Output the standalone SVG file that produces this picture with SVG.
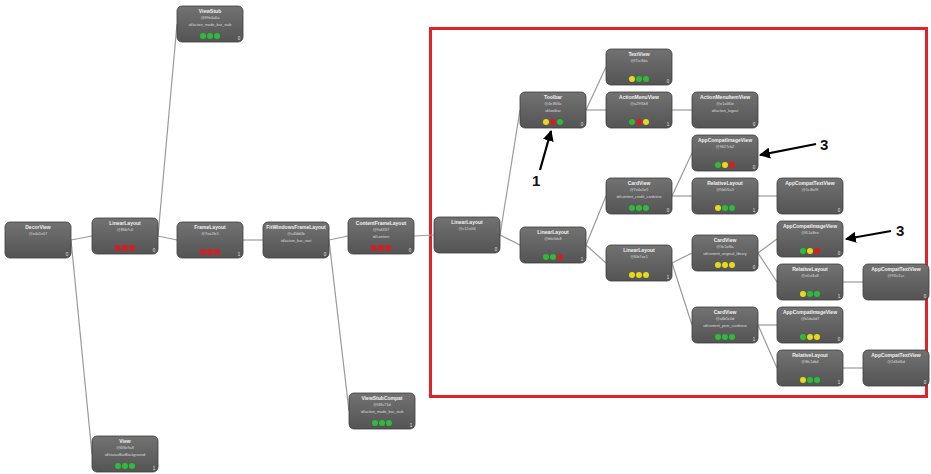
<svg xmlns="http://www.w3.org/2000/svg" width="931" height="474" viewBox="0 0 931 474">
  <defs>
    <linearGradient id="boxFill" x1="0" y1="0" x2="0" y2="1">
      <stop offset="0" stop-color="#727272"/>
      <stop offset="1" stop-color="#545454"/>
    </linearGradient>
    <marker id="arrowHead" viewBox="0 0 10 10" refX="9" refY="5" markerWidth="5" markerHeight="5" orient="auto-start-reverse">
      <path d="M0,0 L10,5 L0,10 z" fill="#000"/>
    </marker>
  </defs>
  <style>
    .box { fill: url(#boxFill); stroke: #3e3e3e; stroke-width: 0.8; }
    .t { font-family: "Liberation Sans", Arial, sans-serif; font-size: 5px; font-weight: bold; fill: #f2f2f2; text-anchor: middle; }
    .i { font-family: "Liberation Sans", Arial, sans-serif; font-size: 3.8px; fill: #dcdcdc; text-anchor: middle; }
    .n { font-family: "Liberation Sans", Arial, sans-serif; font-size: 4.5px; fill: #e0e0e0; text-anchor: middle; }
    .g { fill: #2dbb3a; }
    .y { fill: #e8d81a; }
    .r { fill: #d61d24; }
    .wire { stroke: #9a9a9a; stroke-width: 1.2; fill: none; }
    .note { stroke: #000; stroke-width: 2.2; fill: none; }
    .lbl { font-family: "Liberation Sans", Arial, sans-serif; font-size: 15px; font-weight: bold; fill: #111; }
  </style>

  <rect width="931" height="474" fill="#ffffff"/>

  <!-- highlighted sub-tree frame -->
  <rect x="430.5" y="28.5" width="496" height="368" fill="none" stroke="#e0232b" stroke-width="3"/>

  <!-- connectors: parent right-middle to child left-middle -->
  <g id="connectors">
    <line class="wire" x1="71" y1="240" x2="92" y2="236"/>
    <line class="wire" x1="71" y1="240" x2="92" y2="454"/>
    <line class="wire" x1="158" y1="236" x2="177" y2="24"/>
    <line class="wire" x1="158" y1="236" x2="177" y2="240"/>
    <line class="wire" x1="243" y1="240" x2="263" y2="240"/>
    <line class="wire" x1="329" y1="240" x2="348" y2="236"/>
    <line class="wire" x1="329" y1="240" x2="349" y2="411"/>
    <line class="wire" x1="414" y1="236" x2="434" y2="235"/>
    <line class="wire" x1="500" y1="235" x2="520" y2="110"/>
    <line class="wire" x1="500" y1="235" x2="520" y2="245"/>
    <line class="wire" x1="586" y1="110" x2="606" y2="67"/>
    <line class="wire" x1="586" y1="110" x2="606" y2="110"/>
    <line class="wire" x1="672" y1="110" x2="692" y2="110"/>
    <line class="wire" x1="586" y1="245" x2="606" y2="196"/>
    <line class="wire" x1="586" y1="245" x2="606" y2="263"/>
    <line class="wire" x1="672" y1="196" x2="692" y2="153"/>
    <line class="wire" x1="672" y1="196" x2="692" y2="196"/>
    <line class="wire" x1="758" y1="196" x2="777" y2="196"/>
    <line class="wire" x1="672" y1="263" x2="692" y2="253"/>
    <line class="wire" x1="672" y1="263" x2="692" y2="325"/>
    <line class="wire" x1="758" y1="253" x2="777" y2="239"/>
    <line class="wire" x1="758" y1="253" x2="777" y2="282"/>
    <line class="wire" x1="843" y1="282" x2="863" y2="282"/>
    <line class="wire" x1="758" y1="325" x2="777" y2="325"/>
    <line class="wire" x1="758" y1="325" x2="777" y2="368"/>
    <line class="wire" x1="843" y1="368" x2="863" y2="368"/>
  </g>

  <!-- view nodes -->
  <g id="n-decorview" transform="translate(5,222)">
    <rect class="box" width="66" height="36" rx="5"/>
    <text class="t" x="33" y="7">DecorView</text>
    <text class="i" x="33" y="13">@a4a5e07</text>
    <text class="n" x="62" y="34">0</text>
  </g>

  <g id="n-linearlayout-root" transform="translate(92,218)">
    <rect class="box" width="66" height="36" rx="5"/>
    <text class="t" x="33" y="7">LinearLayout</text>
    <text class="i" x="33" y="13">@86b7c0</text>
    <circle class="r" cx="26" cy="30" r="3"/><circle class="r" cx="33" cy="30" r="3"/><circle class="r" cx="40" cy="30" r="3"/>
    <text class="n" x="62" y="34">0</text>
  </g>

  <g id="n-viewstub" transform="translate(177,6)">
    <rect class="box" width="66" height="36" rx="5"/>
    <text class="t" x="33" y="7">ViewStub</text>
    <text class="i" x="33" y="13">@89e4a6a</text>
    <text class="i" x="33" y="20">id/action_mode_bar_stub</text>
    <circle class="g" cx="26" cy="30" r="3"/><circle class="g" cx="33" cy="30" r="3"/><circle class="g" cx="40" cy="30" r="3"/>
    <text class="n" x="62" y="34">0</text>
  </g>

  <g id="n-framelayout" transform="translate(177,222)">
    <rect class="box" width="66" height="36" rx="5"/>
    <text class="t" x="33" y="7">FrameLayout</text>
    <text class="i" x="33" y="13">@7ea2fe5</text>
    <circle class="r" cx="26" cy="30" r="3"/><circle class="r" cx="33" cy="30" r="3"/><circle class="r" cx="40" cy="30" r="3"/>
    <text class="n" x="62" y="34">1</text>
  </g>

  <g id="n-fitwindowsframelayout" transform="translate(263,222)">
    <rect class="box" width="66" height="36" rx="5"/>
    <text class="t" x="33" y="7">FitWindowsFrameLayout</text>
    <text class="i" x="33" y="13">@c4fdd0b</text>
    <text class="i" x="33" y="20">id/action_bar_root</text>
    <text class="n" x="62" y="34">0</text>
  </g>

  <g id="n-contentframelayout" transform="translate(348,218)">
    <rect class="box" width="66" height="36" rx="5"/>
    <text class="t" x="33" y="7">ContentFrameLayout</text>
    <text class="i" x="33" y="13">@9a6f1f7</text>
    <text class="i" x="33" y="20">id/content</text>
    <circle class="r" cx="26" cy="30" r="3"/><circle class="r" cx="33" cy="30" r="3"/><circle class="r" cx="40" cy="30" r="3"/>
    <text class="n" x="62" y="34">0</text>
  </g>

  <g id="n-viewstubcompat" transform="translate(349,393)">
    <rect class="box" width="66" height="36" rx="5"/>
    <text class="t" x="33" y="7">ViewStubCompat</text>
    <text class="i" x="33" y="13">@f48c71d</text>
    <text class="i" x="33" y="20">id/action_mode_bar_stub</text>
    <circle class="g" cx="26" cy="30" r="3"/><circle class="g" cx="33" cy="30" r="3"/><circle class="g" cx="40" cy="30" r="3"/>
    <text class="n" x="62" y="34">1</text>
  </g>

  <g id="n-view" transform="translate(92,436)">
    <rect class="box" width="66" height="36" rx="5"/>
    <text class="t" x="33" y="7">View</text>
    <text class="i" x="33" y="13">@6f3e9a8</text>
    <text class="i" x="33" y="20">id/statusBarBackground</text>
    <circle class="g" cx="26" cy="30" r="3"/><circle class="g" cx="33" cy="30" r="3"/><circle class="g" cx="40" cy="30" r="3"/>
    <text class="n" x="62" y="34">1</text>
  </g>

  <g id="n-linearlayout-a" transform="translate(434,217)">
    <rect class="box" width="66" height="36" rx="5"/>
    <text class="t" x="33" y="7">LinearLayout</text>
    <text class="i" x="33" y="13">@c12c0f4</text>
    <text class="n" x="62" y="34">0</text>
  </g>

  <g id="n-toolbar" transform="translate(520,92)">
    <rect class="box" width="66" height="36" rx="5"/>
    <text class="t" x="33" y="7">Toolbar</text>
    <text class="i" x="33" y="13">@4e3f06c</text>
    <text class="i" x="33" y="20">id/toolbar</text>
    <circle class="y" cx="26" cy="30" r="3"/><circle class="r" cx="33" cy="30" r="3"/><circle class="g" cx="40" cy="30" r="3"/>
    <text class="n" x="62" y="34">0</text>
  </g>

  <g id="n-linearlayout-b" transform="translate(520,227)">
    <rect class="box" width="66" height="36" rx="5"/>
    <text class="t" x="33" y="7">LinearLayout</text>
    <text class="i" x="33" y="13">@bfa9dc8</text>
    <circle class="g" cx="26" cy="30" r="3"/><circle class="g" cx="33" cy="30" r="3"/><circle class="r" cx="40" cy="30" r="3"/>
    <text class="n" x="62" y="34">1</text>
  </g>

  <g id="n-textview" transform="translate(606,49)">
    <rect class="box" width="66" height="36" rx="5"/>
    <text class="t" x="33" y="7">TextView</text>
    <text class="i" x="33" y="13">@f7cc8da</text>
    <circle class="y" cx="26" cy="30" r="3"/><circle class="g" cx="33" cy="30" r="3"/><circle class="g" cx="40" cy="30" r="3"/>
    <text class="n" x="62" y="34">0</text>
  </g>

  <g id="n-actionmenuview" transform="translate(606,92)">
    <rect class="box" width="66" height="36" rx="5"/>
    <text class="t" x="33" y="7">ActionMenuView</text>
    <text class="i" x="33" y="13">@a29f1b8</text>
    <circle class="g" cx="26" cy="30" r="3"/><circle class="r" cx="33" cy="30" r="3"/><circle class="y" cx="40" cy="30" r="3"/>
    <text class="n" x="62" y="34">1</text>
  </g>

  <g id="n-actionmenuitemview" transform="translate(692,92)">
    <rect class="box" width="66" height="36" rx="5"/>
    <text class="t" x="33" y="7">ActionMenuItemView</text>
    <text class="i" x="33" y="13">@e1a6f0e</text>
    <text class="i" x="33" y="20">id/action_logout</text>
    <text class="n" x="62" y="34">0</text>
  </g>

  <g id="n-appcompatimageview-1" transform="translate(692,135)">
    <rect class="box" width="66" height="36" rx="5"/>
    <text class="t" x="33" y="7">AppCompatImageView</text>
    <text class="i" x="33" y="13">@9627cb2</text>
    <circle class="g" cx="26" cy="30" r="3"/><circle class="y" cx="33" cy="30" r="3"/><circle class="r" cx="40" cy="30" r="3"/>
    <text class="n" x="62" y="34">0</text>
  </g>

  <g id="n-cardview-1" transform="translate(606,178)">
    <rect class="box" width="66" height="36" rx="5"/>
    <text class="t" x="33" y="7">CardView</text>
    <text class="i" x="33" y="13">@7e4a5a5</text>
    <text class="i" x="33" y="20">id/content_credit_cardview</text>
    <circle class="g" cx="26" cy="30" r="3"/><circle class="g" cx="33" cy="30" r="3"/><circle class="g" cx="40" cy="30" r="3"/>
    <text class="n" x="62" y="34">0</text>
  </g>

  <g id="n-relativelayout-1" transform="translate(692,178)">
    <rect class="box" width="66" height="36" rx="5"/>
    <text class="t" x="33" y="7">RelativeLayout</text>
    <text class="i" x="33" y="13">@5b0f1a3</text>
    <circle class="y" cx="26" cy="30" r="3"/><circle class="g" cx="33" cy="30" r="3"/><circle class="g" cx="40" cy="30" r="3"/>
    <text class="n" x="62" y="34">1</text>
  </g>

  <g id="n-appcompattextview-1" transform="translate(777,178)">
    <rect class="box" width="66" height="36" rx="5"/>
    <text class="t" x="33" y="7">AppCompatTextView</text>
    <text class="i" x="33" y="13">@1c4fa9f</text>
    <text class="n" x="62" y="34">0</text>
  </g>

  <g id="n-linearlayout-c" transform="translate(606,245)">
    <rect class="box" width="66" height="36" rx="5"/>
    <text class="t" x="33" y="7">LinearLayout</text>
    <text class="i" x="33" y="13">@f0b7ae1</text>
    <circle class="y" cx="26" cy="30" r="3"/><circle class="y" cx="33" cy="30" r="3"/><circle class="y" cx="40" cy="30" r="3"/>
    <text class="n" x="62" y="34">1</text>
  </g>

  <g id="n-cardview-2" transform="translate(692,235)">
    <rect class="box" width="66" height="36" rx="5"/>
    <text class="t" x="33" y="7">CardView</text>
    <text class="i" x="33" y="13">@3c1af6a</text>
    <text class="i" x="33" y="20">id/content_original_library</text>
    <circle class="y" cx="26" cy="30" r="3"/><circle class="y" cx="33" cy="30" r="3"/><circle class="y" cx="40" cy="30" r="3"/>
    <text class="n" x="62" y="34">0</text>
  </g>

  <g id="n-appcompatimageview-2" transform="translate(777,221)">
    <rect class="box" width="66" height="36" rx="5"/>
    <text class="t" x="33" y="7">AppCompatImageView</text>
    <text class="i" x="33" y="13">@f51a8ee</text>
    <circle class="g" cx="26" cy="30" r="3"/><circle class="y" cx="33" cy="30" r="3"/><circle class="r" cx="40" cy="30" r="3"/>
    <text class="n" x="62" y="34">0</text>
  </g>

  <g id="n-relativelayout-2" transform="translate(777,264)">
    <rect class="box" width="66" height="36" rx="5"/>
    <text class="t" x="33" y="7">RelativeLayout</text>
    <text class="i" x="33" y="13">@e0cf4a8</text>
    <circle class="y" cx="26" cy="30" r="3"/><circle class="g" cx="33" cy="30" r="3"/><circle class="g" cx="40" cy="30" r="3"/>
    <text class="n" x="62" y="34">1</text>
  </g>

  <g id="n-appcompattextview-2" transform="translate(863,264)">
    <rect class="box" width="66" height="36" rx="5"/>
    <text class="t" x="33" y="7">AppCompatTextView</text>
    <text class="i" x="33" y="13">@9f5c1cc</text>
    <text class="n" x="62" y="34">0</text>
  </g>

  <g id="n-cardview-3" transform="translate(692,307)">
    <rect class="box" width="66" height="36" rx="5"/>
    <text class="t" x="33" y="7">CardView</text>
    <text class="i" x="33" y="13">@a6b5c0d</text>
    <text class="i" x="33" y="20">id/content_peer_cardview</text>
    <circle class="g" cx="26" cy="30" r="3"/><circle class="g" cx="33" cy="30" r="3"/><circle class="g" cx="40" cy="30" r="3"/>
    <text class="n" x="62" y="34">1</text>
  </g>

  <g id="n-appcompatimageview-3" transform="translate(777,307)">
    <rect class="box" width="66" height="36" rx="5"/>
    <text class="t" x="33" y="7">AppCompatImageView</text>
    <text class="i" x="33" y="13">@b1da0d7</text>
    <circle class="g" cx="26" cy="30" r="3"/><circle class="y" cx="33" cy="30" r="3"/><circle class="y" cx="40" cy="30" r="3"/>
    <text class="n" x="62" y="34">0</text>
  </g>

  <g id="n-relativelayout-3" transform="translate(777,350)">
    <rect class="box" width="66" height="36" rx="5"/>
    <text class="t" x="33" y="7">RelativeLayout</text>
    <text class="i" x="33" y="13">@8fc1db4</text>
    <circle class="y" cx="26" cy="30" r="3"/><circle class="g" cx="33" cy="30" r="3"/><circle class="g" cx="40" cy="30" r="3"/>
    <text class="n" x="62" y="34">1</text>
  </g>

  <g id="n-appcompattextview-3" transform="translate(863,350)">
    <rect class="box" width="66" height="36" rx="5"/>
    <text class="t" x="33" y="7">AppCompatTextView</text>
    <text class="i" x="33" y="13">@2d3ef6d</text>
    <text class="n" x="62" y="34">0</text>
  </g>

  <!-- callouts -->
  <g id="callouts">
    <line class="note" x1="540" y1="170" x2="551" y2="131" marker-end="url(#arrowHead)"/>
    <text class="lbl" x="532" y="186">1</text>
    <line class="note" x1="816" y1="144" x2="760" y2="155" marker-end="url(#arrowHead)"/>
    <text class="lbl" x="820" y="150">3</text>
    <line class="note" x1="891" y1="231" x2="846" y2="239" marker-end="url(#arrowHead)"/>
    <text class="lbl" x="896" y="236">3</text>
  </g>
</svg>
